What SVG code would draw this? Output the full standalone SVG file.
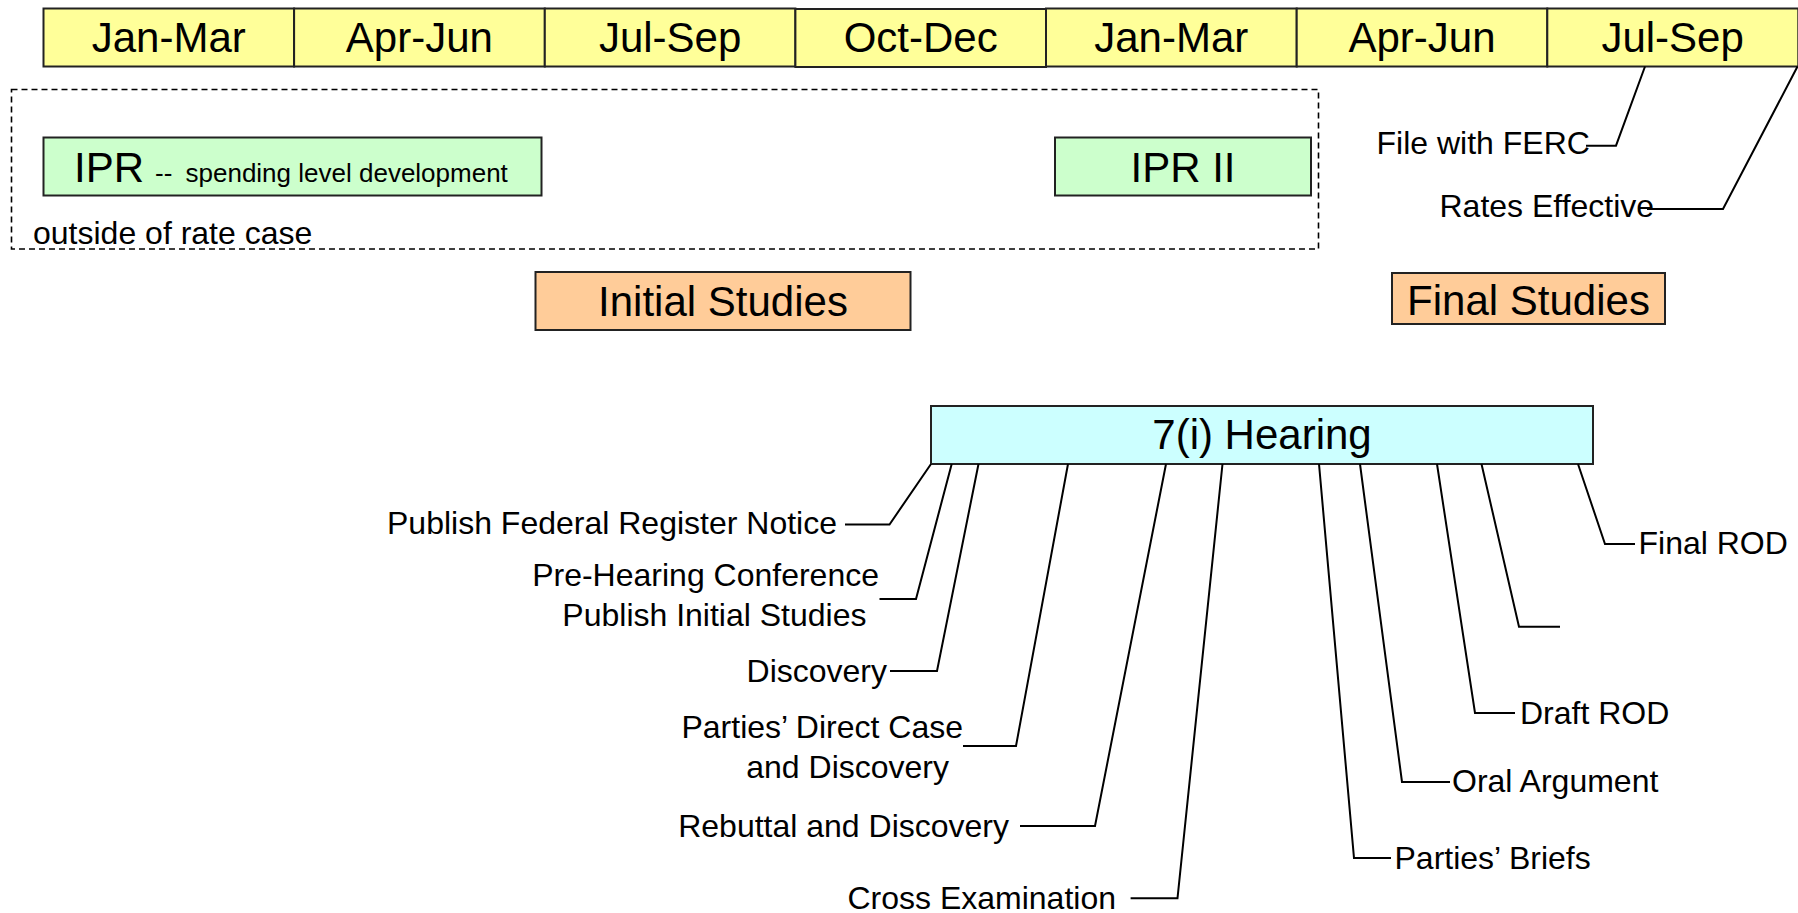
<svg xmlns="http://www.w3.org/2000/svg" width="1798" height="913" viewBox="0 0 1798 913">
<style>
  text { font-family: "Liberation Sans", Arial, sans-serif; fill: #000; }
  .big { font-size: 42px; }
  .lbl { font-size: 32px; }
  .sm { font-size: 26px; }
  .mid { text-anchor: middle; }
  .end { text-anchor: end; }
  .cell { fill: #FFFF99; stroke: #222; stroke-width: 2; }
  .green { fill: #CCFFCC; stroke: #222; stroke-width: 2; }
  .orange { fill: #FFCC99; stroke: #222; stroke-width: 2; }
  .cyan { fill: #CCFFFF; stroke: #222; stroke-width: 2; }
  .dash { fill: none; stroke: #000; stroke-width: 1.6; stroke-dasharray: 6 4; }
  .conn { fill: none; stroke: #000; stroke-width: 2; }
</style>
<rect width="1798" height="913" fill="#fff"/>
<g id="timeline">
  <rect class="cell" x="43.5" y="8.5" width="250.6" height="58"/>
  <rect class="cell" x="294.1" y="8.5" width="250.7" height="58"/>
  <rect class="cell" x="544.8" y="8.5" width="250.6" height="58"/>
  <rect class="cell" x="795.4" y="9" width="250.6" height="58"/>
  <rect class="cell" x="1046" y="8.5" width="250.7" height="58"/>
  <rect class="cell" x="1296.7" y="8.5" width="250.6" height="58"/>
  <rect class="cell" x="1547.3" y="8.5" width="251" height="58"/>
  <text class="big mid" x="168.8" y="52">Jan-Mar</text>
  <text class="big mid" x="419.4" y="52">Apr-Jun</text>
  <text class="big mid" x="670.1" y="52">Jul-Sep</text>
  <text class="big mid" x="920.7" y="52">Oct-Dec</text>
  <text class="big mid" x="1171.3" y="52">Jan-Mar</text>
  <text class="big mid" x="1422" y="52">Apr-Jun</text>
  <text class="big mid" x="1672.6" y="52">Jul-Sep</text>
</g>
<g id="outside">
  <rect class="dash" x="11.5" y="89.5" width="1307" height="159.5"/>
  <text class="lbl" x="33" y="244">outside of rate case</text>
</g>
<g id="ipr">
  <rect class="green" x="43.5" y="137.5" width="498" height="58"/>
  <text class="big" x="74" y="181.5">IPR</text>
  <text class="sm" x="155" y="181.5">--</text>
  <text class="sm" x="185.5" y="181.5">spending level development</text>
</g>
<g id="ipr2">
  <rect class="green" x="1055" y="137.5" width="256" height="58"/>
  <text class="big mid" x="1183" y="181.5">IPR II</text>
</g>
<g id="initial-studies">
  <rect class="orange" x="535.5" y="272" width="375" height="58"/>
  <text class="big mid" x="723" y="315.5">Initial Studies</text>
</g>
<g id="final-studies">
  <rect class="orange" x="1392" y="273" width="273" height="51"/>
  <text class="big mid" x="1528.5" y="315">Final Studies</text>
</g>
<g id="hearing">
  <rect class="cyan" x="931" y="406" width="662" height="58"/>
  <text class="big mid" x="1262" y="449">7(i) Hearing</text>
</g>
<g id="file-ferc"><text class="lbl" x="1376.5" y="154">File with FERC</text></g>
<g id="rates-effective"><text class="lbl" x="1439.5" y="217">Rates Effective</text></g>
<g id="publish-frn"><text class="lbl end" x="837" y="534">Publish Federal Register Notice</text></g>
<g id="pre-hearing">
  <text class="lbl end" x="879" y="586">Pre-Hearing Conference</text>
  <text class="lbl end" x="866.5" y="626">Publish Initial Studies</text>
</g>
<g id="discovery"><text class="lbl end" x="887" y="682">Discovery</text></g>
<g id="direct-case">
  <text class="lbl end" x="963" y="738">Parties’ Direct Case</text>
  <text class="lbl end" x="949" y="778">and Discovery</text>
</g>
<g id="rebuttal"><text class="lbl end" x="1009" y="837">Rebuttal and Discovery</text></g>
<g id="cross"><text class="lbl end" x="1116" y="909">Cross Examination</text></g>
<g id="briefs"><text class="lbl" x="1394.5" y="869">Parties’ Briefs</text></g>
<g id="oral"><text class="lbl" x="1452" y="792">Oral Argument</text></g>
<g id="draft-rod"><text class="lbl" x="1520" y="724">Draft ROD</text></g>
<g id="final-rod"><text class="lbl" x="1638.5" y="554">Final ROD</text></g>
<g id="connectors">
  <polyline class="conn" points="1645,66.5 1616,145.7 1586,145.7"/>
  <polyline class="conn" points="1797.5,66.5 1723,209 1647,209"/>
  <polyline class="conn" points="931,464 889.5,524.5 845,524.5"/>
  <polyline class="conn" points="951.7,464 916,599 879.5,599"/>
  <polyline class="conn" points="978.5,464 937,671 890,671"/>
  <polyline class="conn" points="1068,464 1016,746 963,746"/>
  <polyline class="conn" points="1166,464 1095,826 1020,826"/>
  <polyline class="conn" points="1222.5,464 1177.5,898.3 1130.6,898.3"/>
  <polyline class="conn" points="1319,464 1354,858 1391,858"/>
  <polyline class="conn" points="1360,464 1402,782 1450,782"/>
  <polyline class="conn" points="1437,464 1475,713 1515,713"/>
  <polyline class="conn" points="1481.5,464 1519,626.7 1560,626.7"/>
  <polyline class="conn" points="1578,464 1605,544 1635,544"/>
</g>
</svg>
